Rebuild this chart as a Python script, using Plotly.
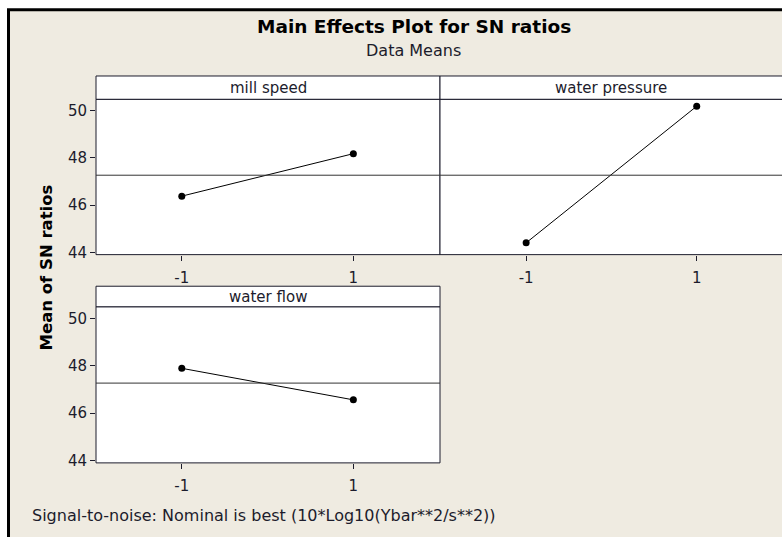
"""Minitab-style main effects plot for SN ratios, rebuilt with Plotly."""

import plotly.graph_objects as go

W, H = 782, 537

# Data
factors = ["mill speed", "water pressure", "water flow"]
levels = [-1, 1]
sn_mill_speed = [46.38, 48.18]
sn_water_pressure = [44.40, 50.19]
sn_water_flow = [47.89, 46.56]
y_ticks = [44, 46, 48, 50]

BG = "#efebe1"
INK = "#1c1c2c"
FONT = "DejaVu Sans"

# panel geometry in pixels: left, right, header top, plot top, plot bottom
PANELS = [
    (96, 440, 77, 100.7, 258),
    (440, 790, 77, 100.7, 258),
    (96, 440, 290, 311, 469),
]
X_RANGES = [[-2.0, 2.01], [-2.01, 2.0], [-2.0, 2.01]]


def px_x(x):
    return x / W


def px_y(y):
    return 1 - y / H


def label(text, x, y, size, color=INK, **kw):
    return dict(
        text=text, xref="paper", yref="paper", x=px_x(x), y=px_y(y),
        xanchor=kw.pop("xanchor", "center"), yanchor="middle",
        showarrow=False, font=dict(family=FONT, size=size, color=color), **kw,
    )


series = [sn_mill_speed, sn_water_pressure, sn_water_flow]
all_values = [v for s in series for v in s]
grand_mean = sum(all_values) / len(all_values)

fig = go.Figure()
shapes = []
annotations = []

# outer frame of the graph window
shapes.append(dict(
    type="rect", xref="paper", yref="paper", layer="below",
    x0=px_x(8.5), x1=1.05, y0=-0.05, y1=px_y(10),
    fillcolor=BG, line=dict(color="black", width=3),
))

for i, (name, values) in enumerate(zip(factors, series)):
    left, right, head_top, top, bottom = PANELS[i]
    n = i + 1
    xa = "x" if n == 1 else f"x{n}"
    ya = "y" if n == 1 else f"y{n}"
    first_col = left < 100

    fig.add_trace(go.Scatter(
        x=levels, y=values,
        mode="lines+markers",
        line=dict(color="black", width=1),
        marker=dict(color="black", size=7),
        xaxis=xa, yaxis=ya,
        showlegend=False, hoverinfo="x+y",
    ))

    # header strip and plot area
    shapes.append(dict(
        type="rect", xref="paper", yref="paper", layer="below",
        x0=px_x(left), x1=px_x(right), y0=px_y(top), y1=px_y(head_top),
        fillcolor="white", line=dict(color=INK, width=1),
    ))
    shapes.append(dict(
        type="rect", xref="paper", yref="paper", layer="below",
        x0=px_x(left), x1=px_x(right), y0=px_y(bottom), y1=px_y(top),
        fillcolor="white", line=dict(color=INK, width=1),
    ))
    # reference line at the grand mean
    shapes.append(dict(
        type="line", xref=f"{xa} domain", yref=ya,
        x0=0, x1=1, y0=grand_mean, y1=grand_mean,
        line=dict(color="#333333", width=1),
    ))

    annotations.append(label(name, (left + min(right, W)) / 2, (head_top + top) / 2 + 0.5, 15))

    axis_x = dict(
        domain=[px_x(left), min(px_x(right), 1)],
        range=X_RANGES[i], anchor=ya,
        tickvals=levels, ticktext=[str(v) for v in levels],
        ticks="outside", ticklen=5, tickcolor=INK, ticklabelstandoff=4,
        showline=False, showgrid=False, zeroline=False,
        tickfont=dict(family=FONT, size=15, color=INK),
    )
    axis_y = dict(
        domain=[px_y(bottom), px_y(top)],
        range=[43.9, 50.48], anchor=xa,
        tickvals=y_ticks,
        ticks="outside" if first_col else "", ticklen=5, tickcolor=INK,
        showticklabels=first_col,
        showline=False, showgrid=False, zeroline=False,
        tickfont=dict(family=FONT, size=15, color=INK),
    )
    fig.update_layout(**{
        ("xaxis" if n == 1 else f"xaxis{n}"): axis_x,
        ("yaxis" if n == 1 else f"yaxis{n}"): axis_y,
    })

annotations += [
    label("<b>Main Effects Plot for SN ratios</b>", 414, 27, 18.5, color="black"),
    label("Data Means", 413, 51, 16),
    label("<b>Mean of SN ratios</b>", 46, 271, 16.5, color="black", textangle=-90),
    label("Signal-to-noise: Nominal is best (10*Log10(Ybar**2/s**2))",
          30, 522, 16, xanchor="left"),
]

fig.update_layout(
    width=W, height=H,
    margin=dict(l=0, r=0, t=0, b=0),
    paper_bgcolor="white",
    plot_bgcolor="rgba(0,0,0,0)",
    shapes=shapes,
    annotations=annotations,
)

# drop the default page margin so the figure fills the window exactly
fig.write_html(
    "out.html",
    config={"displayModeBar": False},
    post_script="document.body.style.margin='0';document.body.style.overflow='hidden';",
)
